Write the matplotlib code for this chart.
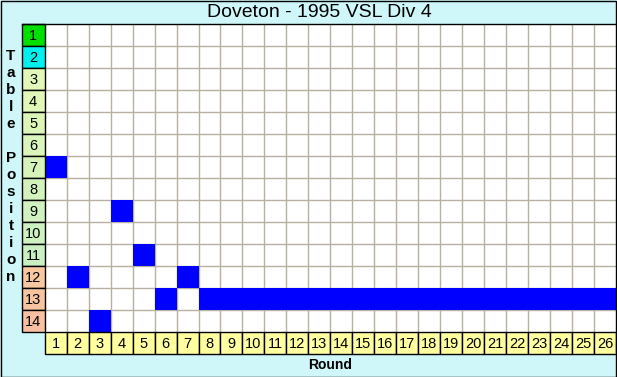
import numpy as np
import matplotlib.pyplot as plt
from matplotlib.patches import Rectangle

# table position after each round
rounds = list(range(1, 27))
positions = [7, 12, 14, 9, 11, 13, 12] + [13] * 19

nTeams = 14
posLabels = [str(i) for i in range(1, nTeams + 1)]
roundLabels = [str(r) for r in rounds]

# colours of the position boxes
posColors = ['#00E000', '#00F0F0'] + \
    ['#E2F8B8', '#E0F8B8', '#DCF6B8', '#DAF6BA', '#D6F4BA', '#D2F4BC', '#D0F2BE', '#CCF2C0', '#C8F0C0'] + \
    ['#F8C8A0', '#F8C4A0', '#F8C0A0']

bgColor = '#CFF6F8'
gridColor = '#B8B0A0'
W, H = 617, 377

fig = plt.figure(figsize=(W / 100, H / 100), dpi=100, facecolor=bgColor)

# grid area in pixels
left, right, top, bottom = 44.7, 616.0, 24.3, 332.3
ax = fig.add_axes([left / W, 1 - bottom / H, (right - left) / W, (bottom - top) / H])
ax.set_facecolor('white')
ax.set_xlim(0.5, 26.5)
ax.set_ylim(nTeams + 0.5, 0.5)

# grid lines
for x in np.arange(1.5, 26.5, 1):
    ax.axvline(x, color=gridColor, lw=1.0, zorder=1)
for y in np.arange(1.5, nTeams + 0.5, 1):
    ax.axhline(y, color=gridColor, lw=1.0, zorder=1)

# position cells
ax.bar(rounds, 1, bottom=np.array(positions) - 0.5, width=1.0, color='#0000FF',
       edgecolor='none', zorder=2, align='center')

ax.set_xticks([])
ax.set_yticks([])
for s in ax.spines.values():
    s.set_visible(False)

# left column of position boxes
for i, lab in enumerate(posLabels):
    p = i + 1
    ax.add_patch(Rectangle((-0.55, p - 0.5), 1.05, 1, facecolor=posColors[i],
                           edgecolor='black', lw=1, clip_on=False, zorder=3))
    ax.text(-0.03, p + 0.03, lab, ha='center', va='center', fontsize=10.5,
            family='Liberation Sans', clip_on=False, zorder=4)

# bottom row of round boxes
for r, lab in zip(rounds, roundLabels):
    ax.add_patch(Rectangle((r - 0.5, nTeams + 0.5), 1, 1.0, facecolor='#FFFFA0',
                           edgecolor='black', lw=1, clip_on=False, zorder=3))
    ax.text(r, nTeams + 1.05, lab, ha='center', va='center', fontsize=10.5,
            family='Liberation Sans', clip_on=False, zorder=4)

# line under the title
fig.add_artist(plt.Line2D([22 / W, 1], [1 - 24.3 / H, 1 - 24.3 / H], color='black', lw=1))

fig.text(319 / W, 1 - 12.5 / H, 'Doveton - 1995 VSL Div 4', ha='center', va='center',
         fontsize=14, family='Liberation Sans')
fig.text(330 / W, 1 - 365 / H, 'Round', ha='center', va='center', fontsize=10,
         family='Liberation Sans', weight='bold')

# vertical axis title, one letter per line
yLetters = 'Table Position'
for k, ch in enumerate(yLetters):
    fig.text(11 / W, 1 - (56 + k * 17.0) / H, ch, ha='center', va='center',
             fontsize=11, family='Liberation Sans', weight='bold')

# outer border
fig.add_artist(Rectangle((0.5 / W, 0.5 / H), (W - 1.5) / W, (H - 1.5) / H, transform=fig.transFigure,
                         facecolor='none', edgecolor='black', lw=1))

fig.savefig('out.png', dpi=100, facecolor=bgColor)
